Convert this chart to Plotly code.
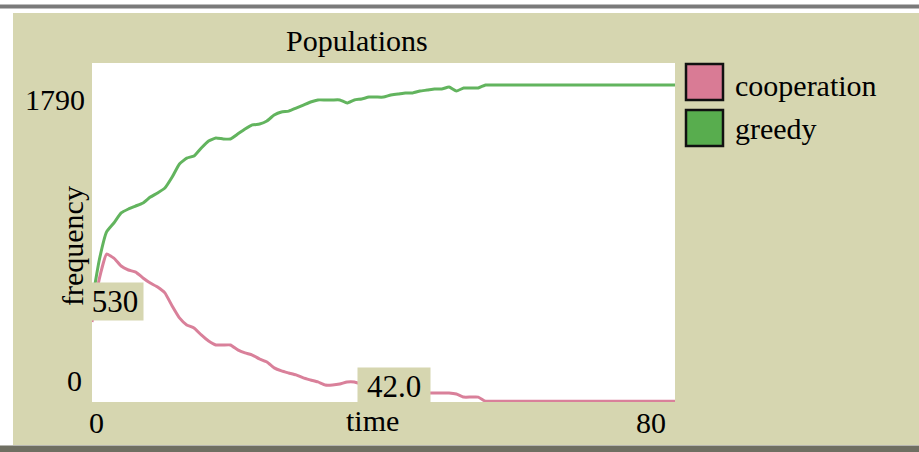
import plotly.graph_objects as go

# ---- data ----
time = list(range(0, 81))
greedy = [530, 750, 898, 945, 998, 1019, 1035, 1051, 1082, 1104,
          1130, 1188, 1257, 1288, 1299, 1341, 1378, 1394, 1389, 1389,
          1415, 1441, 1463, 1468, 1484, 1515, 1531, 1536, 1552, 1568,
          1584, 1595, 1595, 1595, 1595, 1579, 1595, 1600, 1610, 1610,
          1610, 1621, 1626, 1632, 1632, 1642, 1647, 1653, 1653, 1663,
          1642, 1658, 1658, 1658, 1674] + [1674] * 26
cooperation = [422, 650, 781, 760, 718, 697, 686, 655, 628, 607,
               576, 507, 444, 407, 391, 354, 322, 301, 301, 301,
               275, 259, 248, 227, 211, 180, 164, 153, 143, 127,
               116, 106, 90, 90, 95, 106, 106, 95, 85, 80,
               75, 70, 65, 58, 52, 48, 48, 48, 48, 48,
               42, 26, 26, 26, 4] + [4] * 26
series_names = ["cooperation", "greedy"]
series_colors = ["#d9809a", "#62b45e"]
legend_fill = ["#d97b95", "#58ad4e"]
x_range = [0, 80]
y_range = [0, 1790]
y_tick_labels = ["0", "1790"]
x_tick_labels = ["0", "80"]
readouts = ["530", "42.0"]

BEIGE = "#d6d6b0"
FONT = "Liberation Serif, Times New Roman, Times, DejaVu Serif, serif"
FS = 30

W, H = 919, 452
L, R, T, B = 92, 675, 63, 402   # plot area in pixels


def px(x):
    return (x - L) / (R - L)


def py(y):
    return (B - y) / (B - T)


fig = go.Figure()
for name, vals, col in zip(series_names, [cooperation, greedy], series_colors):
    fig.add_trace(go.Scatter(x=time, y=vals, mode="lines", name=name,
                             line=dict(color=col, width=3, shape="spline", smoothing=0.4),
                             showlegend=False))

shapes = [
    # beige panel
    dict(type="rect", xref="paper", yref="paper", x0=px(13), x1=px(925),
         y0=py(445), y1=py(13), fillcolor=BEIGE, line=dict(width=0), layer="below"),
    # white plot area
    dict(type="rect", xref="paper", yref="paper", x0=0, x1=1, y0=0, y1=1,
         fillcolor="white", line=dict(width=0), layer="below"),
    # grey window bars
    dict(type="rect", xref="paper", yref="paper", x0=px(0), x1=px(925),
         y0=py(8.5), y1=py(4.5), fillcolor="#7a7a7a", line=dict(width=0), layer="below"),
    dict(type="rect", xref="paper", yref="paper", x0=px(0), x1=px(925),
         y0=py(460), y1=py(445.5), fillcolor="#6f6f62", line=dict(width=0), layer="below"),
]

# legend boxes
box_tops = [64, 110]
for i, (name, fillc) in enumerate(zip(series_names, legend_fill)):
    t0 = box_tops[i]
    shapes.append(dict(type="rect", xref="paper", yref="paper",
                       x0=px(686), x1=px(723), y0=py(t0 + 36), y1=py(t0),
                       fillcolor=fillc, line=dict(color="#111111", width=2.5),
                       layer="above"))

annotations = []
txt = dict(family=FONT, size=FS, color="black")
for i, name in enumerate(series_names):
    annotations.append(dict(text=name, xref="paper", yref="paper",
                            x=px(733), y=py([85, 128][i]), xanchor="left",
                            yanchor="middle", showarrow=False, font=txt))

annotations += [
    dict(text="Populations", xref="paper", yref="paper", x=px(357), y=py(40),
         xanchor="center", yanchor="middle", showarrow=False, font=txt),
    dict(text=y_tick_labels[1], xref="paper", yref="paper", x=px(87), y=py(99),
         xanchor="right", yanchor="middle", showarrow=False, font=txt),
    dict(text=y_tick_labels[0], xref="paper", yref="paper", x=px(84), y=py(380),
         xanchor="right", yanchor="middle", showarrow=False, font=txt),
    dict(text=x_tick_labels[0], xref="paper", yref="paper", x=px(96), y=py(422),
         xanchor="center", yanchor="middle", showarrow=False, font=txt),
    dict(text=x_tick_labels[1], xref="paper", yref="paper", x=px(651), y=py(422),
         xanchor="center", yanchor="middle", showarrow=False, font=txt),
    dict(text="time", xref="paper", yref="paper", x=px(372), y=py(420),
         xanchor="center", yanchor="middle", showarrow=False, font=txt),
    dict(text="frequency", xref="paper", yref="paper", x=px(73), y=py(246),
         xanchor="center", yanchor="middle", textangle=-90, showarrow=False, font=txt),
    # readout boxes
    dict(text=readouts[0], xref="paper", yref="paper", x=px(115), y=py(301.5),
         xanchor="center", yanchor="middle", width=56, height=37, borderpad=0,
         bgcolor=BEIGE, showarrow=False, font=dict(family=FONT, size=31, color="black")),
    dict(text=readouts[1], xref="paper", yref="paper", x=px(394), y=py(386.5),
         xanchor="center", yanchor="middle", width=72, height=37, borderpad=0,
         bgcolor=BEIGE, showarrow=False, font=dict(family=FONT, size=31, color="black")),
]

fig.update_layout(
    width=W, height=H,
    margin=dict(l=L, r=W - R, t=T, b=H - B, pad=0),
    paper_bgcolor="white", plot_bgcolor="rgba(0,0,0,0)",
    shapes=shapes, annotations=annotations, showlegend=False,
    xaxis=dict(range=x_range, showgrid=False, zeroline=False, showticklabels=False,
               ticks="", showline=False, fixedrange=True),
    yaxis=dict(range=y_range, showgrid=False, zeroline=False, showticklabels=False,
               ticks="", showline=False, fixedrange=True),
)

fig.write_html("out.html", config={"displayModeBar": False},
               post_script="document.body.style.margin='0';document.body.style.overflow='hidden';")
